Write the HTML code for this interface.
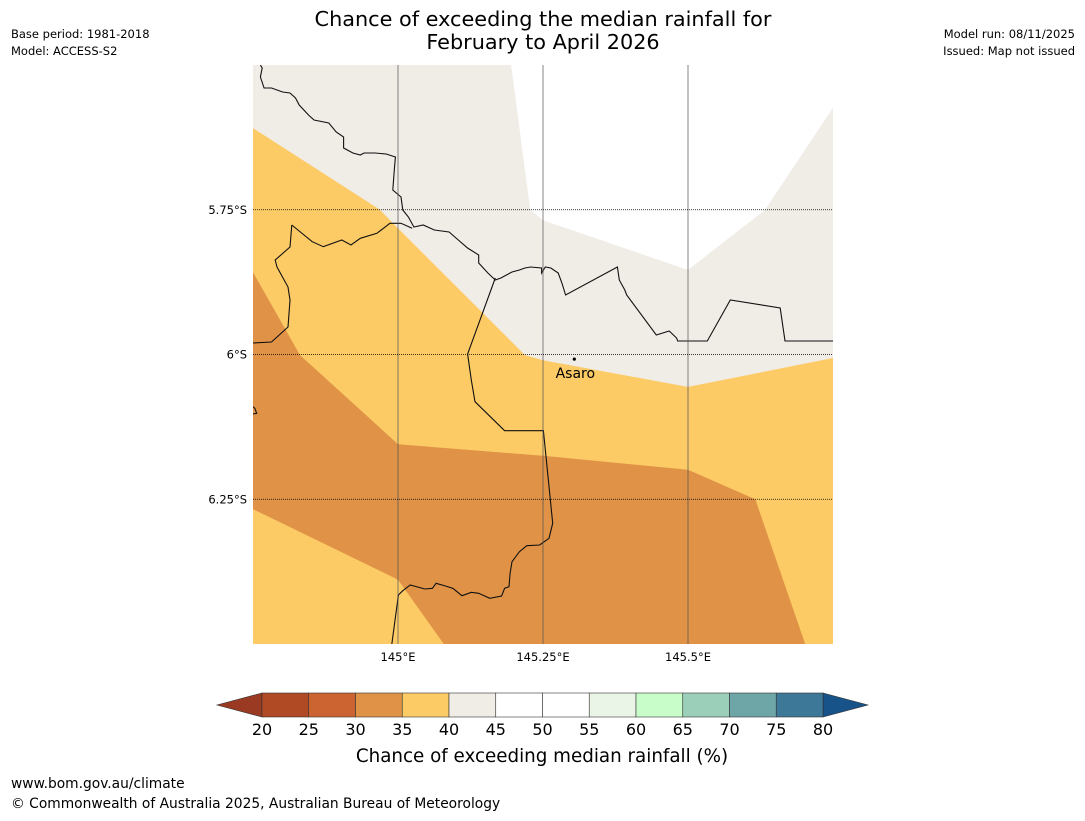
<!DOCTYPE html>
<html><head><meta charset="utf-8"><style>
body{margin:0;background:#fff;}
svg text{font-family:"DejaVu Sans","Liberation Sans",sans-serif;}
</style></head><body>
<svg id="chart" width="1085" height="816" viewBox="0 0 1085 816" xmlns="http://www.w3.org/2000/svg">
<text x="543" y="26" font-size="20.8" text-anchor="middle">Chance of exceeding the median rainfall for</text>
<text x="543" y="49" font-size="20.8" text-anchor="middle">February to April 2026</text>
<text x="11" y="38" font-size="11.5">Base period: 1981-2018</text>
<text x="11" y="55" font-size="11.5">Model: ACCESS-S2</text>
<text x="1075" y="38" font-size="11.5" text-anchor="end">Model run: 08/11/2025</text>
<text x="1075" y="55" font-size="11.5" text-anchor="end">Issued: Map not issued</text>
<defs><clipPath id="mapclip"><rect x="253" y="65" width="580" height="579"/></clipPath></defs>
<g id="map" clip-path="url(#mapclip)"></g>
<g id="axes"></g>
<g id="cbar"></g>
<text x="542" y="762" font-size="18.3" text-anchor="middle">Chance of exceeding median rainfall (%)</text>
<text x="11" y="788" font-size="13.8">www.bom.gov.au/climate</text>
<text x="11" y="808" font-size="13.8">© Commonwealth of Australia 2025, Australian Bureau of Meteorology</text>
</svg>
<script>
// map extent and ticks
const lonTicks=[145,145.25,145.5];
const lonTickLabels=["145°E","145.25°E","145.5°E"];
const latTicks=[5.75,6,6.25];
const latTickLabels=["5.75°S","6°S","6.25°S"];
// contour regions (lon, lat°S)
const whiteLon=[145.195,145.228,145.25,145.5,145.633,145.75,145.75];
const whiteLat=[5.5,5.75,5.768,5.854,5.75,5.574,5.5];
const yellowLon=[144.75,144.969,145.0,145.219,145.25,145.5,145.75,145.75,144.75];
const yellowLat=[5.609,5.75,5.782,6.001,6.010,6.056,6.006,6.5,6.5];
const orangeLon=[144.75,144.831,145.0,145.25,145.5,145.616,145.702,145.079,145.0,144.75];
const orangeLat=[5.858,6.001,6.155,6.175,6.199,6.25,6.5,6.5,6.389,6.267];
// colorbar
const cbLevels=[20,25,30,35,40,45,50,55,60,65,70,75,80];
const cbColors=["#b04a25","#cc6431","#e09346","#fdcb66","#f0ece6","#ffffff","#ffffff","#eaf5e8","#c8fcc8","#9ccfba","#6ea6a8","#3d7899"];
const cbUnder="#9a3a22", cbOver="#175288";
const town={name:"Asaro",lon:145.304,lat:6.008};

const NS="http://www.w3.org/2000/svg";
const X0=253,X1=833,Y0=65,Y1=644,LON0=144.75,LON1=145.75,LAT0=5.5,LAT1=6.5;
function xs(lon){return X0+(lon-LON0)/(LON1-LON0)*(X1-X0);}
function ys(lat){return Y0+(lat-LAT0)/(LAT1-LAT0)*(Y1-Y0);}
function mk(tag,attrs,parent){const e=document.createElementNS(NS,tag);for(const k in attrs)e.setAttribute(k,attrs[k]);parent.appendChild(e);return e;}
const map=document.getElementById('map'),axes=document.getElementById('axes'),cbar=document.getElementById('cbar');
let bg=mk('rect',{x:X0,y:Y0,width:X1-X0,height:Y1-Y0,fill:"#f0ece6"},map);


function poly(lons,lats,fill,name){const p=lons.map((l,i)=>xs(l).toFixed(1)+","+ys(lats[i]).toFixed(1)).join(" ");
 const e=mk('polygon',{points:p,fill:fill},map);
 
 }
poly(whiteLon,whiteLat,"#ffffff","region-45-55");
poly(yellowLon,yellowLat,"#fdcb66","region-35-40");
poly(orangeLon,orangeLat,"#e09346","region-30-35");
// borders (pixel geometry)
const borders=[
"260.4,65 262.2,68 260.4,77 264.1,88 271.5,88 282.6,92 290,93 295.5,98 299.2,105 308.5,115 314,120 328.8,123 336.2,132 343.6,137 343.6,148 352.9,153 360.3,155 364,153 375.1,153 386.2,154 395.4,157 394.3,170 392.8,190 401,197 402.8,210 408.4,217 413.9,227 423.2,225 434.3,230 449.1,232 458.3,240 467.6,248 478.7,255 478.7,263 487.9,273 495.3,280 500.9,278 512,272 519.4,270 524.9,268 530.5,267 541.6,268 541.6,273 545.3,267 550.8,268 558.2,273 561.9,283 565.6,295 617.4,267 619.3,280 624.8,290 626.7,295 656.3,335 669.2,331 676.6,338 677.7,341 707.3,341 730.3,300 780.2,308 785,341 833,341",
"291.8,225 312.2,241.7 323.3,246.7 341.8,240 351,245 360.3,238.3 376.9,233.3 389.9,223.3 401,223.3 412.1,228.3",
"291.8,225 290,247 275.2,260 277,267 288,287 290,300 288,327 271.5,342 253,343",
"495.3,278 467.6,354 471.3,380 475,401.7 504.6,430.7 543.4,430.7 552.7,523.3 549,538.3 539.7,545 526.8,545.7 519.4,551.7 512,561.7 510.1,573.3 509,586.7 504.6,588.3 501.6,596 489.8,598.3 478.7,593.3 471.3,592.3 462,595.7 452.8,588.3 445.4,586 436.1,583.3 432.4,588.3 425,589 410.2,585 402.8,590.7 398.4,595 391.7,645",
"253,406.7 254.8,408.3 256.7,413.3 253,414"];
borders.forEach((b,i)=>{const e=mk('polyline',{points:b,fill:"none",stroke:"#111",'stroke-width':1.1},map);
 
 });
// gridlines
lonTicks.forEach((t,i)=>{const x=xs(t);
 const g=mk('line',{x1:x,y1:Y0,x2:x,y2:Y1,stroke:"#555",'stroke-opacity':0.6,'stroke-width':1.2},axes);
 
 
 const tx=mk('text',{x:x,y:661,'font-size':11.5,'text-anchor':'middle'},axes);tx.textContent=lonTickLabels[i];
 
 });
latTicks.forEach((t,i)=>{const y=ys(t);
 const g=mk('line',{x1:X0,y1:y,x2:X1,y2:y,stroke:"#000",'stroke-width':0.8,'stroke-dasharray':'1,1'},axes);
 
 
 const tx=mk('text',{x:247,y:y+4,'font-size':11.5,'text-anchor':'end'},axes);tx.textContent=latTickLabels[i];
 
 });
// town
const dot=mk('circle',{cx:xs(town.lon),cy:ys(town.lat),r:1.6,fill:"#000"},axes);


const tl=mk('text',{x:xs(town.lon)+1,y:ys(town.lat)+19,'font-size':14,'text-anchor':'middle'},axes);tl.textContent=town.name;


// colorbar
const CB0=262,CB1=823,CBY=693,CBH=24;
function cx(v){return CB0+(v-cbLevels[0])/(cbLevels[cbLevels.length-1]-cbLevels[0])*(CB1-CB0);}
const lt=mk('polygon',{points:`${CB0},${CBY} ${CB0},${CBY+CBH} 217,${CBY+CBH/2}`,fill:cbUnder,stroke:"#333",'stroke-width':0.6},cbar);


const rt=mk('polygon',{points:`${CB1},${CBY} ${CB1},${CBY+CBH} 868,${CBY+CBH/2}`,fill:cbOver,stroke:"#333",'stroke-width':0.6},cbar);


cbColors.forEach((c,i)=>{const x=cx(cbLevels[i]),w=cx(cbLevels[i+1])-x;
 const r=mk('rect',{x:x,y:CBY,width:w,height:CBH,fill:c,stroke:"#333",'stroke-width':0.6},cbar);
 
 });
cbLevels.forEach(v=>{const t=mk('text',{x:cx(v),y:735,'font-size':16,'text-anchor':'middle'},cbar);t.textContent=v;
 
 });
</script>
</body></html>
